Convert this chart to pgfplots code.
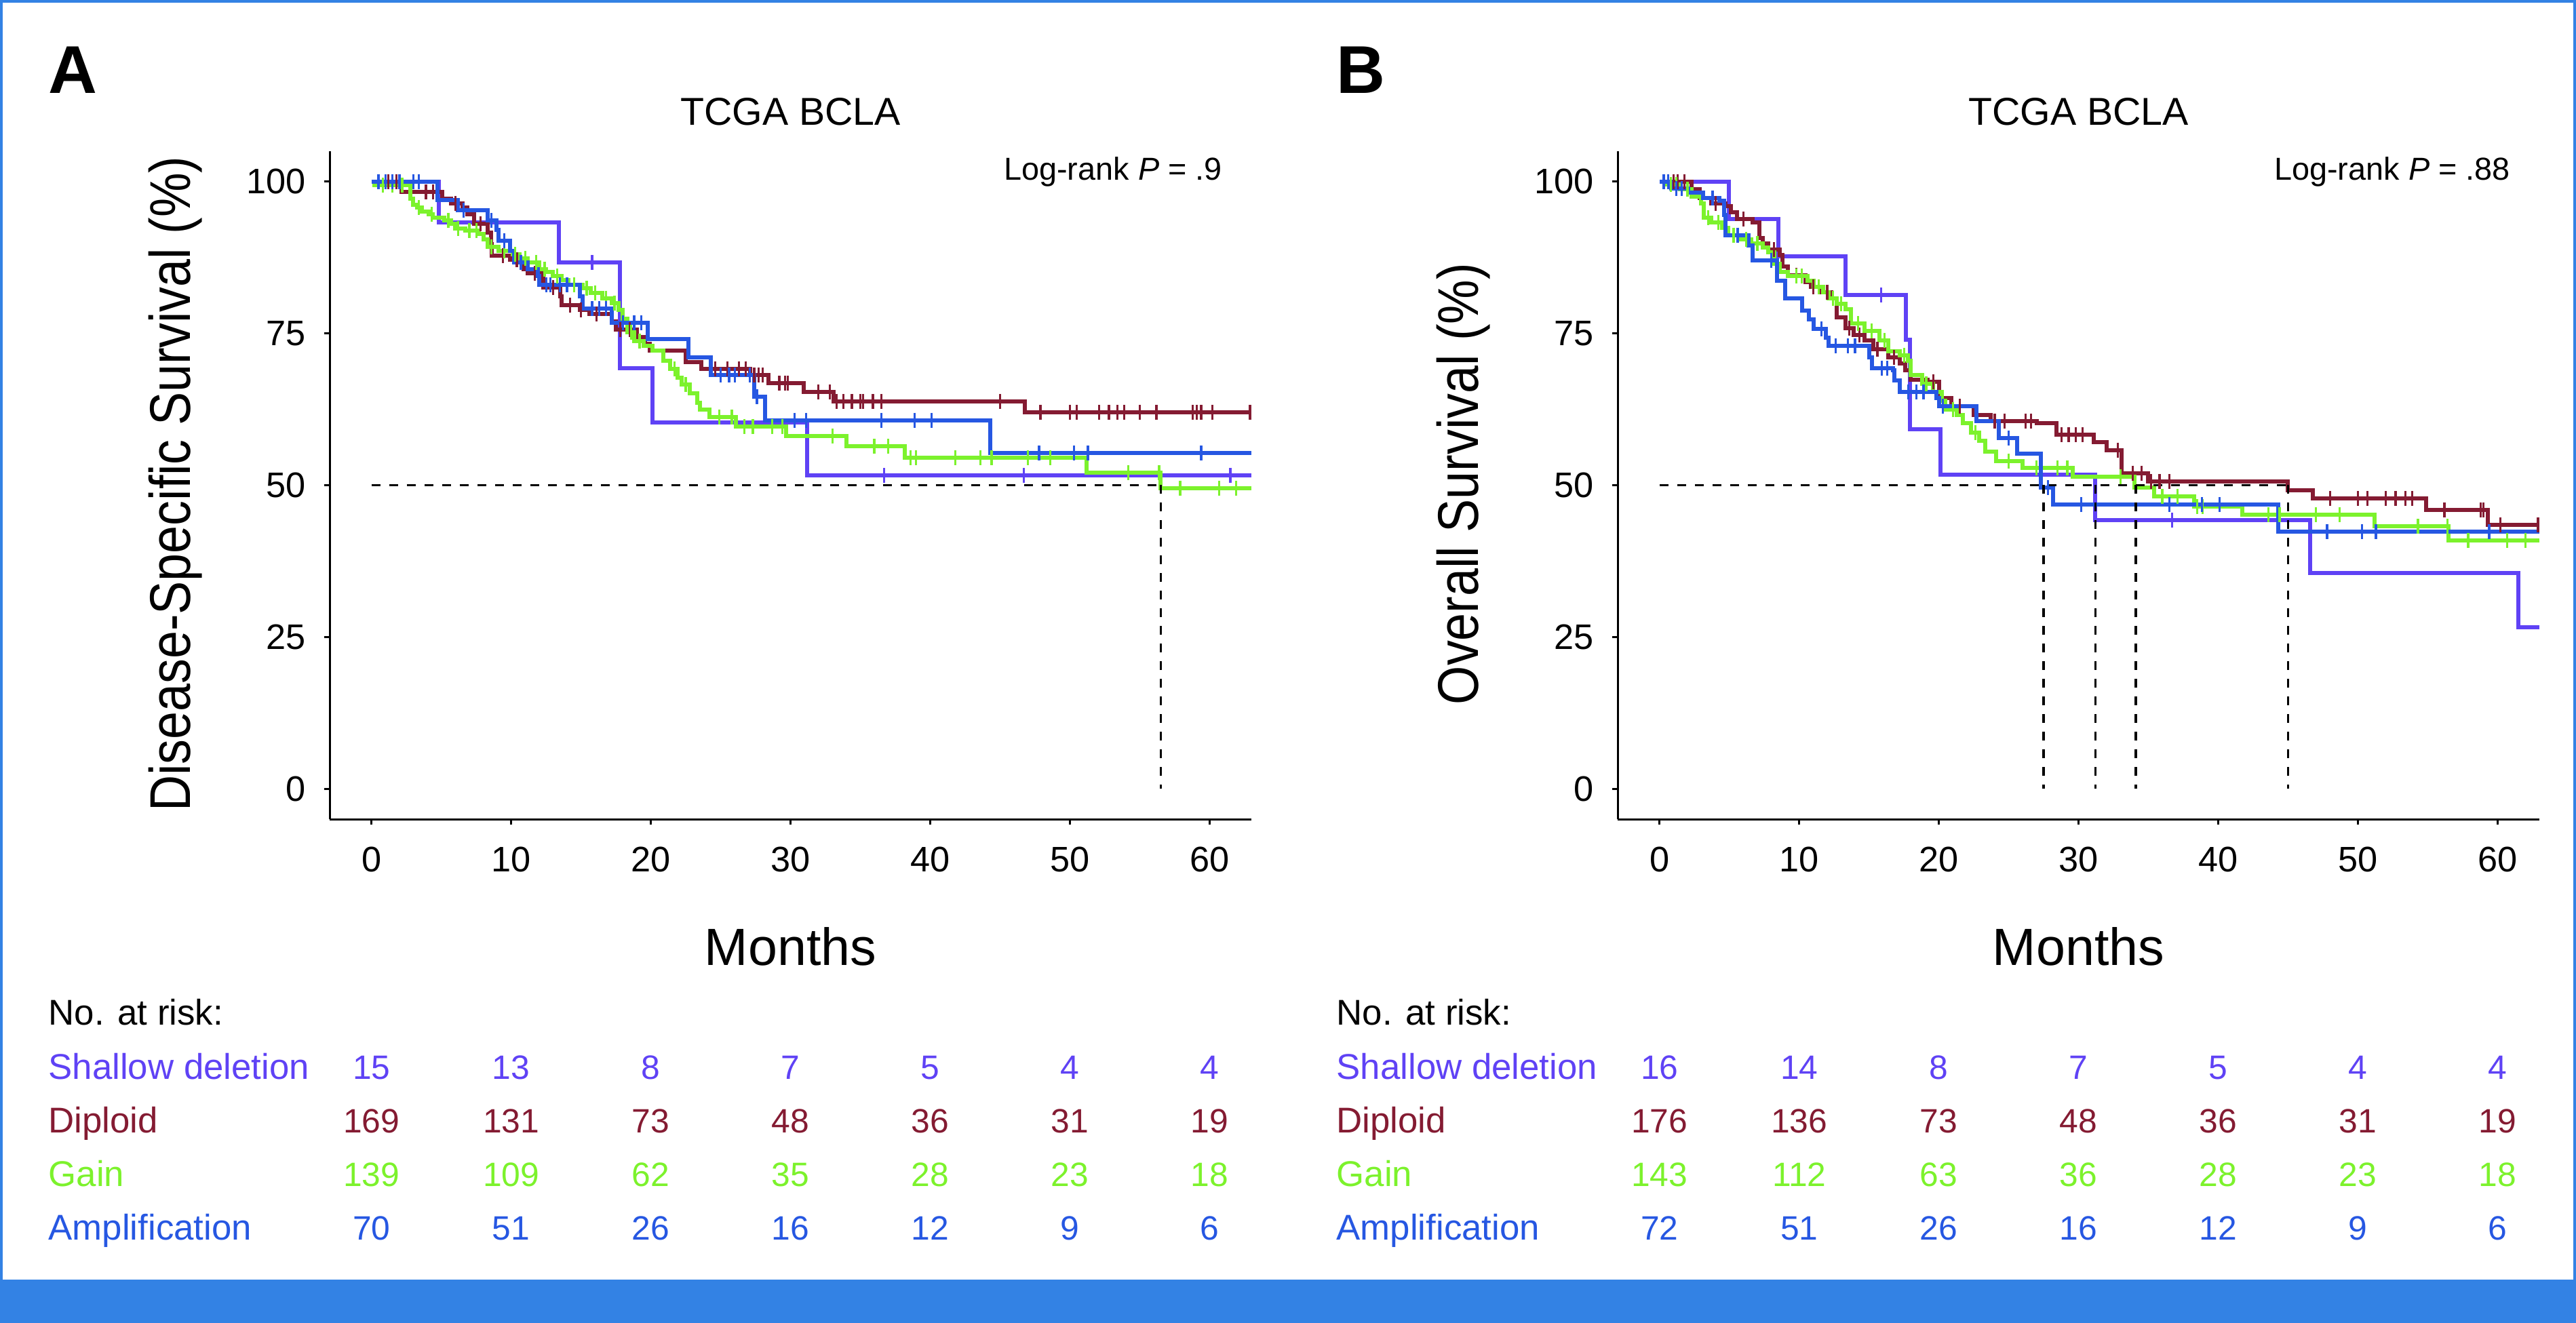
\documentclass[border=0pt]{standalone}
\usepackage{pgfplots}
\pgfplotsset{compat=1.18}
\usepackage{fontspec}
\setmainfont{Liberation Sans}
\newfontfamily\ylabfont{Liberation Sans}[FakeStretch=0.87]
\definecolor{cshal}{RGB}{95,66,245}
\definecolor{cdip}{RGB}{132,27,50}
\definecolor{cgain}{RGB}{124,242,44}
\definecolor{camp}{RGB}{38,87,226}
\definecolor{frameblue}{RGB}{51,130,228}

\pgfplotsset{km/.style={
  scale only axis, width=271.8bp, height=197bp,
  xmin=-3, xmax=63, ymin=-5, ymax=105,
  axis x line*=bottom, axis y line*=left,
  axis line style={-, line width=0.6bp, black},
  xtick={0,10,20,30,40,50,60}, ytick={0,25,50,75,100},
  minor tick num=0,
  tick align=outside, major tick length=1.6bp,
  major tick style={line width=0.6bp, black},
  ticklabel style={font=\fontsize{10.5}{12}\selectfont},
  /pgf/number format/assume math mode=true,
  xticklabel style={yshift=-3bp},
  yticklabel style={xshift=-2bp},
  clip=false,
  anchor=south west,
},
curve/.style={const plot, line width=1.2bp, mark=none},
cens/.style={only marks, mark=|, mark size=2.2bp, mark options={line width=0.65bp}},
medline/.style={black, line width=0.65bp, dash pattern=on 2.6bp off 2.6bp, mark=none},
}

\newcommand\risk[9]{%
\node[anchor=base,text=#1] at (axis cs:0,#2) {#3};
\node[anchor=base,text=#1] at (axis cs:10,#2) {#4};
\node[anchor=base,text=#1] at (axis cs:20,#2) {#5};
\node[anchor=base,text=#1] at (axis cs:30,#2) {#6};
\node[anchor=base,text=#1] at (axis cs:40,#2) {#7};
\node[anchor=base,text=#1] at (axis cs:50,#2) {#8};
\node[anchor=base,text=#1] at (axis cs:60,#2) {#9};}

\newcommand\decor[3]{% letter, ylabel, pval
\node[anchor=base west, font=\fontsize{20}{24}\selectfont\bfseries] at (axis cs:-23.98,114.6) {#1};
\node[anchor=base, font=\fontsize{11.5}{14}\selectfont] at (axis cs:30,109.3) {TCGA BCLA};
\node[anchor=base east, font=\fontsize{9.4}{11}\selectfont] at (axis cs:61.75,100.3) {Log-rank \textit{P} = #3};
\node[anchor=base, rotate=90, font=\fontsize{17}{20}\ylabfont] at (axis cs:-12.96,50.2) {#2};
\node[anchor=base, font=\fontsize{15.5}{18}\selectfont] at (axis cs:30,-29.05) {Months};
\node[anchor=base west, font=\fontsize{10.6}{12}\selectfont] at (axis cs:-23.98,-38.9) {No. at risk:};
\node[anchor=base west, font=\fontsize{10.6}{12}\selectfont, text=cshal] at (axis cs:-23.98,-47.8) {Shallow deletion};
\node[anchor=base west, font=\fontsize{10.6}{12}\selectfont, text=cdip] at (axis cs:-23.98,-56.6) {Diploid};
\node[anchor=base west, font=\fontsize{10.6}{12}\selectfont, text=cgain] at (axis cs:-23.98,-65.5) {Gain};
\node[anchor=base west, font=\fontsize{10.6}{12}\selectfont, text=camp] at (axis cs:-23.98,-74.3) {Amplification};
}

\begin{document}
\begin{tikzpicture}
\useasboundingbox (0,0) rectangle (759.6bp,390.2bp);
\fill[white] (0,0) rectangle (759.6bp,390.2bp);
\fill[frameblue] (0,0) rectangle (759.6bp,12.8bp);
\draw[frameblue, line width=0.9bp] (0.45bp,0.45bp) rectangle (759.15bp,389.75bp);

% ---------------- Panel A ----------------
\begin{axis}[km, at={(97.2bp,148.6bp)}]
\addplot[curve, cshal] coordinates {(0,100) (4.8,93.3) (13.4,86.7) (17.8,69.3) (20.1,60.3) (31.2,51.6) (63,51.6)};
\addplot[cens, cshal] coordinates {(15.8,86.7) (36.7,51.6) (46.7,51.6) (61.5,51.6)};

\addplot[curve, cdip] coordinates {(0,100) (2.15,98.3) (5.07,97.2) (5.71,96.4) (6.52,95.7) (6.85,94.6) (7.33,93.1) (8.3,91.6) (8.55,89.7) (8.63,87.8) (9.92,87.1) (10.9,85.6) (11.2,84.9) (12.3,82.6) (13.5,81.1) (13.6,79.7) (14.9,78.9) (15.6,78.2) (17.2,77.0) (17.5,75.6) (19.0,74.4) (19.6,73.3) (19.9,72.2) (22.5,70.3) (23.6,69.2) (27.1,68.1) (28.4,66.8) (30.95,65.3) (33.1,63.8) (46.8,62.0) (63,62.0)};
\addplot[cens, cdip] coordinates {(0.5,100) (1.2,100) (1.8,100) (3.9,98.3) (4.4,98.3) (6.0,96.4) (7.8,93.1) (9.4,87.8) (10.4,87.1) (11.7,84.9) (13.0,82.6) (14.2,79.7) (15.0,78.9) (16.1,78.2) (17.8,75.6) (18.5,75.6) (24.6,69.2) (25.5,69.2) (26.3,69.2) (26.8,69.2) (27.4,68.1) (27.7,68.1) (28.0,68.1) (29.2,66.8) (29.6,66.8) (29.8,66.8) (32.0,65.3) (32.8,65.3) (33.3,63.8) (33.8,63.8) (34.4,63.8) (35.0,63.8) (35.2,63.8) (35.9,63.8) (36.5,63.8) (45.0,63.8) (47.9,62.0) (50.0,62.0) (50.5,62.0) (52.1,62.0) (52.8,62.0) (53.4,62.0) (53.9,62.0) (55.0,62.0) (56.2,62.0) (58.8,62.0) (59.1,62.0) (59.4,62.0) (60.2,62.0) (62.9,62.0)};

\addplot[curve, cgain] coordinates {(0,100) (0.2,99.4) (2.8,97.2) (2.96,96.2) (3.28,95.7) (3.6,95.1) (4.1,94.6) (4.4,94.0) (5.2,93.6) (5.7,93.1) (6.0,92.3) (6.7,91.9) (7.7,91.4) (8.0,90.5) (8.3,89.2) (9.1,88.6) (10.1,88.0) (10.6,87.3) (11.2,86.7) (12.0,85.6) (12.5,85.1) (13.0,84.5) (13.6,83.8) (14.1,83.0) (15.1,82.4) (15.7,81.7) (16.5,80.8) (17.2,80.0) (17.7,78.9) (18.0,77.4) (18.3,75.2) (18.8,73.7) (19.5,73.0) (20.1,72.2) (20.9,70.5) (21.4,69.2) (21.9,67.7) (22.2,66.6) (22.8,65.1) (23.3,63.6) (23.5,62.5) (24.2,61.2) (26.1,59.7) (29.7,58.1) (34.0,56.4) (38.2,54.5) (51.2,52.1) (56.5,49.5) (63,49.5)};
\addplot[cens, cgain] coordinates {(0.8,99.4) (1.5,99.4) (2.2,99.4) (3.4,95.7) (4.3,94.6) (5.5,93.6) (6.2,92.3) (7.0,91.9) (7.5,91.9) (8.6,89.2) (9.5,88.6) (10.3,88.0) (11.0,87.3) (11.8,86.7) (12.4,85.6) (13.3,84.5) (14.5,83.0) (15.4,82.4) (16.0,81.7) (16.8,80.8) (17.4,80.0) (18.6,75.2) (19.2,73.7) (21.7,69.2) (22.5,66.6) (24.9,61.2) (25.8,61.2) (26.7,59.7) (27.3,59.7) (28.7,59.7) (29.4,59.7) (33.0,58.1) (36.0,56.4) (37.0,56.4) (38.6,54.5) (39.0,54.5) (41.8,54.5) (43.6,54.5) (44.4,54.5) (47.0,54.5) (48.6,54.5) (54.2,52.1) (56.4,52.1) (57.9,49.5) (60.7,49.5) (61.9,49.5)};

\addplot[curve, camp] coordinates {(0,100) (4.74,97.0) (6.2,95.3) (8.3,93.6) (8.95,92.0) (9.1,90.3) (9.9,88.6) (10.2,86.7) (11.2,85.6) (11.9,84.5) (12.0,83.0) (14.9,81.1) (15.1,79.1) (17.2,76.7) (19.8,74.1) (22.7,71.1) (24.3,68.1) (27.4,64.6) (28.2,60.7) (44.3,55.3) (63,55.3)};
\addplot[cens, camp] coordinates {(0.5,100) (1.0,100) (1.5,100) (2.0,100) (3.0,100) (3.4,100) (6.6,95.3) (8.6,93.6) (9.5,90.3) (10.7,86.7) (12.5,83.0) (12.8,83.0) (13.5,83.0) (14.0,83.0) (15.8,79.1) (16.3,79.1) (16.8,79.1) (18.0,76.7) (18.8,76.7) (19.3,76.7) (25.0,68.1) (25.6,68.1) (26.0,68.1) (27.1,68.1) (27.6,64.6) (30.3,60.7) (31.1,60.7) (36.5,60.7) (38.9,60.7) (40.1,60.7) (47.8,55.3) (50.3,55.3) (51.3,55.3) (59.4,55.3)};

\addplot[medline] coordinates {(0,50) (56.5,50)};
\addplot[medline] coordinates {(56.5,50) (56.5,0)};

\decor{A}{Disease-Specific Survival (\%)}{.9}
\begingroup\fontsize{10.6}{12}\selectfont
\risk{cshal}{-47.8}{15}{13}{8}{7}{5}{4}{4}
\risk{cdip}{-56.6}{169}{131}{73}{48}{36}{31}{19}
\risk{cgain}{-65.5}{139}{109}{62}{35}{28}{23}{18}
\risk{camp}{-74.3}{70}{51}{26}{16}{12}{9}{6}
\endgroup
\end{axis}

% ---------------- Panel B ----------------
\begin{axis}[km, at={(477.0bp,148.6bp)}]
\addplot[curve, cshal] coordinates {(0,100) (4.97,93.8) (8.5,87.7) (13.34,81.3) (17.65,73.9) (17.95,59.2) (20.1,51.7) (31.2,44.2) (46.6,35.5) (61.5,26.6) (63,26.6)};
\addplot[cens, cshal] coordinates {(15.85,81.3) (36.7,44.2)};

\addplot[curve, cdip] coordinates {(0,100) (2.27,98.7) (2.88,97.3) (3.7,96.4) (4.72,95.9) (5.13,94.9) (5.54,93.8) (6.66,93.3) (7.17,90.7) (7.37,89.8) (7.78,88.8) (8.6,87.9) (8.8,86.0) (9.2,84.6) (10.44,83.4) (10.85,82.7) (11.46,81.8) (12.28,80.8) (12.69,77.6) (13.3,75.9) (13.9,74.7) (14.7,73.8) (15.3,72.4) (16.4,71.0) (17.2,70.0) (17.6,68.9) (18.0,67.4) (19.2,67.0) (20.0,64.4) (20.9,63.0) (22.5,61.6) (23.7,60.6) (27.0,60.2) (28.4,58.3) (31.1,57.1) (32.0,55.8) (33.1,52.0) (35.0,50.6) (45.0,49.2) (46.8,47.8) (54.9,45.9) (59.3,43.5) (63,43.5)};
\addplot[cens, cdip] coordinates {(0.3,100) (1.0,100) (1.3,100) (1.8,100) (4.0,96.4) (6.0,93.8) (8.2,88.8) (9.8,84.6) (11.0,82.7) (12.0,81.8) (13.6,75.9) (14.3,74.7) (15.6,72.4) (16.8,71.0) (19.6,67.0) (21.5,63.0) (24.0,60.6) (24.7,60.6) (26.2,60.6) (26.6,60.6) (28.8,58.3) (29.3,58.3) (29.8,58.3) (30.3,58.3) (32.8,55.8) (33.9,52.0) (34.5,52.0) (35.2,50.6) (35.8,50.6) (36.5,50.6) (48.0,47.8) (50.0,47.8) (50.7,47.8) (52.0,47.8) (52.7,47.8) (53.4,47.8) (53.9,47.8) (56.2,45.9) (58.8,45.9) (59.0,45.9) (60.2,43.5) (62.9,43.5)};

\addplot[curve, cgain] coordinates {(0,100) (0.43,99.5) (1.45,98.7) (2.27,97.5) (2.98,96.4) (3.19,94.0) (3.7,93.3) (4.5,92.4) (4.9,91.2) (5.74,90.5) (6.56,89.8) (7.37,89.1) (7.78,88.4) (8.2,86.5) (8.6,85.1) (9.2,84.4) (10.6,83.7) (11.05,82.7) (11.7,81.8) (12.1,80.8) (12.7,79.9) (13.3,79.0) (13.7,76.6) (14.7,75.4) (15.75,73.8) (16.4,72.1) (17.2,71.4) (17.8,70.5) (18.0,68.1) (18.8,66.7) (19.6,65.3) (20.2,63.9) (20.45,62.5) (21.3,61.6) (21.7,60.2) (22.3,58.7) (22.9,57.3) (23.3,55.5) (24.1,54.0) (26.0,52.9) (29.6,51.4) (34.0,49.6) (35.4,48.2) (38.3,46.5) (41.75,45.1) (51.2,43.2) (56.5,40.9) (63,40.9)};
\addplot[cens, cgain] coordinates {(0.8,99.5) (1.2,99.5) (2.0,98.7) (3.5,94.0) (4.2,93.3) (5.3,91.2) (6.2,90.5) (7.0,89.8) (9.8,84.4) (10.2,84.4) (11.4,82.7) (12.4,80.8) (13.0,79.9) (14.2,76.6) (15.2,75.4) (16.1,73.8) (17.5,71.4) (19.1,66.7) (21.0,62.5) (22.6,58.7) (25.0,54.0) (27.0,52.9) (28.5,52.9) (29.2,52.9) (33.0,51.4) (36.0,48.2) (37.1,48.2) (38.5,46.5) (38.9,46.5) (43.6,45.1) (44.4,45.1) (47.0,45.1) (48.7,45.1) (54.3,43.2) (56.4,43.2) (57.9,40.9) (60.7,40.9) (62.0,40.9)};

\addplot[curve, camp] coordinates {(0,100) (0.84,98.9) (2.06,98.2) (3.1,97.3) (4.3,96.8) (4.6,94.5) (4.7,91.2) (6.35,89.5) (6.66,87.0) (8.4,83.7) (9.0,80.8) (10.2,78.7) (10.7,77.3) (11.05,75.7) (11.9,74.3) (12.1,72.9) (15.0,71.0) (15.2,69.3) (16.7,68.9) (16.8,67.2) (17.2,65.3) (19.8,64.4) (20.0,63.0) (22.7,60.6) (24.3,57.8) (25.6,55.2) (27.3,49.6) (28.2,46.8) (44.3,42.4) (63,42.4)};
\addplot[cens, camp] coordinates {(0.3,100) (0.6,100) (1.2,98.9) (1.6,98.9) (3.8,97.3) (5.6,91.2) (8.0,87.0) (11.6,75.7) (12.6,72.9) (13.5,72.9) (14.0,72.9) (15.9,69.3) (16.3,69.3) (17.8,65.3) (18.4,65.3) (18.9,65.3) (20.3,63.0) (25.0,57.8) (27.8,49.6) (30.2,46.8) (36.5,46.8) (38.85,46.8) (40.1,46.8) (47.8,42.4) (50.3,42.4) (51.3,42.4) (59.4,42.4)};

\addplot[medline] coordinates {(0,50) (45.0,50)};
\addplot[medline] coordinates {(27.5,50) (27.5,0)};
\addplot[medline] coordinates {(31.2,50) (31.2,0)};
\addplot[medline] coordinates {(34.1,50) (34.1,0)};
\addplot[medline] coordinates {(45.0,50) (45.0,0)};

\decor{B}{Overall Survival (\%)}{.88}
\begingroup\fontsize{10.6}{12}\selectfont
\risk{cshal}{-47.8}{16}{14}{8}{7}{5}{4}{4}
\risk{cdip}{-56.6}{176}{136}{73}{48}{36}{31}{19}
\risk{cgain}{-65.5}{143}{112}{63}{36}{28}{23}{18}
\risk{camp}{-74.3}{72}{51}{26}{16}{12}{9}{6}
\endgroup
\end{axis}
\end{tikzpicture}
\end{document}
